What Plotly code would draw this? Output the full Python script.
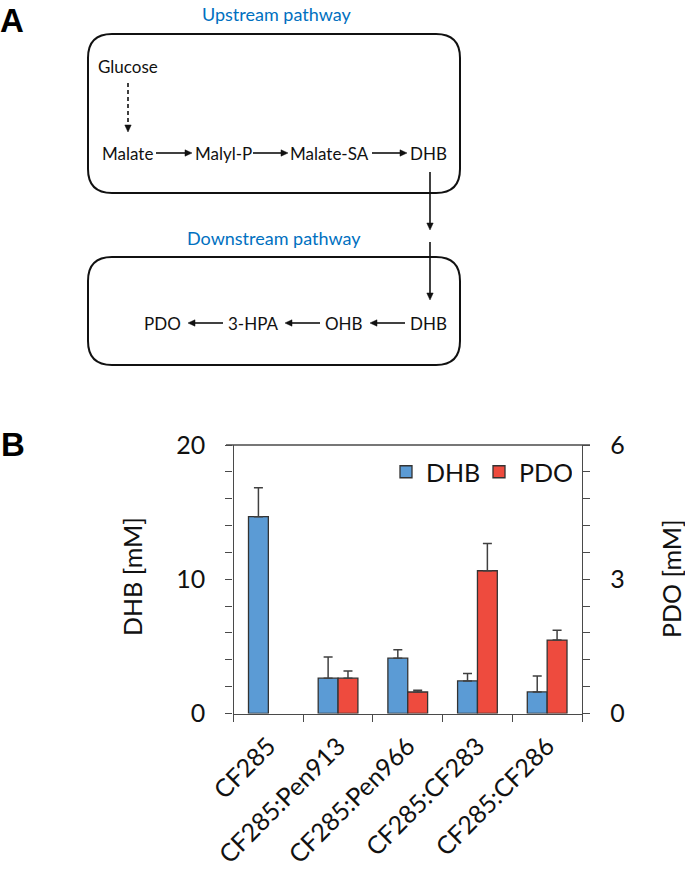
import plotly.graph_objects as go

# ---------------- data ----------------
strains = ["CF285", "CF285:Pen913", "CF285:Pen966", "CF285:CF283", "CF285:CF286"]
dhb_mM = [14.66, 2.63, 4.12, 2.43, 1.61]
dhb_err = [2.16, 1.57, 0.62, 0.55, 1.19]
pdo_mM = [None, 0.79, 0.48, 3.19, 1.64]
pdo_err = [None, 0.16, 0.04, 0.61, 0.22]

upstream_nodes = ["Malate", "Malyl-P", "Malate-SA", "DHB"]
downstream_nodes = ["PDO", "3-HPA", "OHB", "DHB"]

# ---------------- helpers (pixel -> paper) ----------------
W, H = 685, 871
def px(x):
    return x / W
def py(y):
    return 1 - y / H

FONT = "Lato, 'Open Sans', sans-serif"
BLUE = "#5B9BD5"
RED = "#EE4B3E"
EDGE = "#333333"
AXC = "#4a4a4a"
TXT = "#111111"

fig = go.Figure()

fig.add_trace(go.Bar(
    x=strains, y=dhb_mM, name="DHB", yaxis="y",
    offset=-0.285, width=0.285,
    marker=dict(color=BLUE, line=dict(color=EDGE, width=1.3)),
    error_y=dict(type="data", symmetric=False, array=dhb_err,
                 arrayminus=[0] * len(dhb_err), color="#404040",
                 thickness=1.5, width=4.5),
))
fig.add_trace(go.Bar(
    x=strains, y=pdo_mM, name="PDO", yaxis="y2",
    offset=0.0, width=0.285,
    marker=dict(color=RED, line=dict(color=EDGE, width=1.3)),
    error_y=dict(type="data", symmetric=False, array=pdo_err,
                 arrayminus=[0 if v is not None else None for v in pdo_err],
                 color="#404040", thickness=1.5, width=4.5),
))

shapes = []
annotations = []

# frame top line of chart
shapes.append(dict(type="line", xref="paper", yref="paper",
                   x0=px(226), x1=px(590), y0=py(445), y1=py(445),
                   line=dict(color=AXC, width=1.3)))

# ---------------- diagram (panel A) ----------------
def rounded_rect(x0, y0, x1, y1, r):
    pts = [
        ("M", [(x0 + r, y0)]),
        ("L", [(x1 - r, y0)]),
        ("Q", [(x1, y0), (x1, y0 + r)]),
        ("L", [(x1, y1 - r)]),
        ("Q", [(x1, y1), (x1 - r, y1)]),
        ("L", [(x0 + r, y1)]),
        ("Q", [(x0, y1), (x0, y1 - r)]),
        ("L", [(x0, y0 + r)]),
        ("Q", [(x0, y0), (x0 + r, y0)]),
    ]
    s = ""
    for cmd, pp in pts:
        s += cmd + " ".join(f"{px(a):.5f},{py(b):.5f}" for a, b in pp) + " "
    return s + "Z"

for (x0, y0, x1, y1) in [(88, 34, 460, 193), (88, 257, 460, 365)]:
    shapes.append(dict(type="path", xref="paper", yref="paper",
                       path=rounded_rect(x0, y0, x1, y1, 24),
                       line=dict(color="#111111", width=2),
                       fillcolor="rgba(0,0,0,0)"))

def arrow(x0, y0, x1, y1, dash="solid"):
    # x/y in pixels; arrow tip at (x1, y1)
    L = 7.0
    hw = 3.2
    dx, dy = x1 - x0, y1 - y0
    n = (dx * dx + dy * dy) ** 0.5
    ux, uy = dx / n, dy / n
    bx, by = x1 - ux * L, y1 - uy * L
    shapes.append(dict(type="line", xref="paper", yref="paper",
                       x0=px(x0), y0=py(y0), x1=px(bx + ux), y1=py(by + uy),
                       line=dict(color="#111111", width=1.6, dash=dash)))
    p1 = (bx - uy * hw, by + ux * hw)
    p2 = (bx + uy * hw, by - ux * hw)
    path = (f"M{px(x1):.5f},{py(y1):.5f} L{px(p1[0]):.5f},{py(p1[1]):.5f} "
            f"L{px(p2[0]):.5f},{py(p2[1]):.5f} Z")
    shapes.append(dict(type="path", xref="paper", yref="paper", path=path,
                       line=dict(color="#111111", width=0.5), fillcolor="#111111"))

def label(text, x, y, size=17, color=TXT, bold=False, family=FONT, angle=0):
    annotations.append(dict(
        text=f"<b>{text}</b>" if bold else text,
        x=px(x), y=py(y), xref="paper", yref="paper",
        xanchor="center", yanchor="middle", showarrow=False,
        textangle=angle,
        font=dict(family=family, size=size, color=color)))

label("Upstream pathway", 276, 14, size=18, color="#0070C0")
label("Downstream pathway", 274, 238, size=18, color="#0070C0")
label("Glucose", 128, 67)
arrow(128, 83, 128, 132, dash="4px,3px")

for name, xc in zip(upstream_nodes, [127, 223, 329, 428]):
    label(name, xc, 153)
for (a, b) in [(156, 192), (253, 288), (372, 407)]:
    arrow(a, 153, b, 153)

arrow(430, 172, 430, 230)
arrow(430, 242, 430, 300)

for name, xc in zip(downstream_nodes, [162, 253, 344, 428]):
    label(name, xc, 323)
for (a, b) in [(223, 188), (320, 285), (405, 370)]:
    arrow(a, 323, b, 323)

# panel letters
label("A", 12, 20, size=33, color="#000000", bold=True, family="Liberation Sans, Arial, sans-serif")
label("B", 13, 445, size=33, color="#000000", bold=True, family="Liberation Sans, Arial, sans-serif")

# axis titles
label("DHB [mM]", 132, 577, size=25, angle=-90)
label("PDO [mM]", 671, 579, size=25, angle=-90)

axis_common = dict(showline=True, linecolor=AXC, linewidth=1.3,
                   ticks="outside", ticklen=7, tickcolor=AXC, tickwidth=1.3,
                   showgrid=False, zeroline=False, automargin=False,
                   tickfont=dict(family=FONT, size=25, color=TXT))

fig.update_layout(
    template="none",
    width=W, height=H,
    margin=dict(l=0, r=0, t=0, b=0, pad=0, autoexpand=False),
    paper_bgcolor="white", plot_bgcolor="white",
    font=dict(family=FONT, color=TXT),
    showlegend=True,
    legend=dict(orientation="h", x=px(572), xanchor="right", y=py(449), yanchor="top",
                font=dict(family=FONT, size=25, color=TXT),
                bgcolor="rgba(0,0,0,0)", traceorder="normal",
                itemwidth=30, tracegroupgap=0,
                entrywidth=48, entrywidthmode="pixels"),
    xaxis=dict(domain=[px(233.5), px(582)], type="category",
               range=[-0.5, 4.5], tickson="boundaries", tickangle=-45,
               ticklabelstandoff=7, **axis_common),
    yaxis=dict(domain=[py(713.5), py(445)], range=[0, 20], dtick=10,
               ticklabelstandoff=15,
               minor=dict(dtick=2, ticks="outside", ticklen=7, tickcolor=AXC, tickwidth=1.3),
               **axis_common),
    yaxis2=dict(overlaying="y", side="right", anchor="x", range=[0, 6], dtick=3,
                ticklabelstandoff=15,
                minor=dict(dtick=0.6, ticks="outside", ticklen=7, tickcolor=AXC, tickwidth=1.3),
                **axis_common),
    shapes=shapes,
    annotations=annotations,
)

fig.write_html("out.html",
               config={"displayModeBar": False},
               post_script="document.body.style.margin='0';document.body.style.overflow='hidden';")
